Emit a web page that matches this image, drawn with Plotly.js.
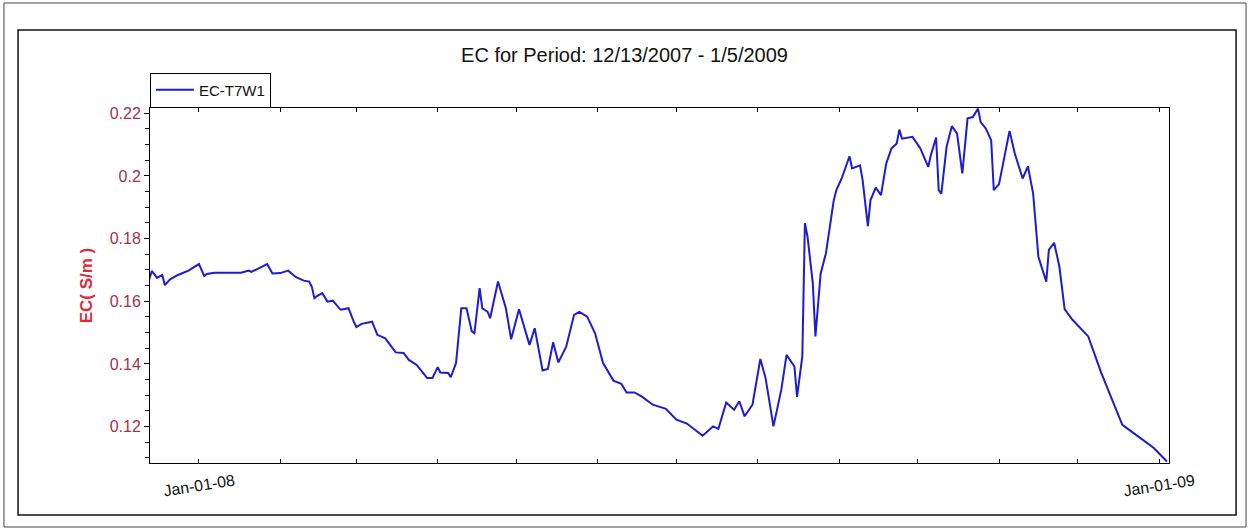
<!DOCTYPE html>
<html>
<head>
<meta charset="utf-8">
<script src="https://cdn.plot.ly/plotly-3.0.1.min.js"></script>
<style>
  html, body { margin: 0; padding: 0; background: #ffffff; }
  #chart { width: 1249px; height: 529px; }
</style>
</head>
<body>
<div id="chart"></div>
<script>
// ---- data ----
const seriesName = 'EC-T7W1';
const chartTitle = 'EC for Period: 12/13/2007 - 1/5/2009';
const yTitle = 'EC( S/m )';

const dates = [
  '2007-12-13','2007-12-14','2007-12-15','2007-12-16','2007-12-18','2007-12-19','2007-12-21','2007-12-24','2007-12-28',
  '2008-01-01','2008-01-03','2008-01-04','2008-01-07','2008-01-17','2008-01-20','2008-01-21','2008-01-23','2008-01-27','2008-01-29',
  '2008-02-01','2008-02-04','2008-02-07','2008-02-10','2008-02-12','2008-02-13','2008-02-14','2008-02-15','2008-02-17','2008-02-19','2008-02-21','2008-02-24','2008-02-27','2008-02-29',
  '2008-03-01','2008-03-03','2008-03-07','2008-03-09','2008-03-12','2008-03-16','2008-03-19','2008-03-21','2008-03-24','2008-03-28','2008-03-30',
  '2008-04-01','2008-04-02','2008-04-05','2008-04-06','2008-04-08','2008-04-10','2008-04-12','2008-04-14','2008-04-15','2008-04-17','2008-04-18','2008-04-20','2008-04-21','2008-04-24','2008-04-27','2008-04-29',
  '2008-05-02','2008-05-06','2008-05-08','2008-05-11','2008-05-13','2008-05-15','2008-05-17','2008-05-20','2008-05-23','2008-05-25','2008-05-28','2008-05-31',
  '2008-06-03','2008-06-07','2008-06-10','2008-06-12','2008-06-15','2008-06-18','2008-06-22','2008-06-27',
  '2008-07-01','2008-07-05','2008-07-11','2008-07-15','2008-07-17','2008-07-20','2008-07-23','2008-07-25','2008-07-27','2008-07-30',
  '2008-08-02','2008-08-04','2008-08-07','2008-08-10','2008-08-12','2008-08-15','2008-08-16','2008-08-18','2008-08-19','2008-08-20','2008-08-22','2008-08-23','2008-08-25','2008-08-27','2008-08-30','2008-08-31',
  '2008-09-02','2008-09-05','2008-09-06','2008-09-09','2008-09-10','2008-09-12','2008-09-13','2008-09-15','2008-09-17','2008-09-19','2008-09-21','2008-09-23','2008-09-24','2008-09-25','2008-09-29',
  '2008-10-02','2008-10-05','2008-10-06','2008-10-08','2008-10-09','2008-10-10','2008-10-12','2008-10-14','2008-10-16','2008-10-18','2008-10-20','2008-10-22','2008-10-24','2008-10-25','2008-10-27','2008-10-29','2008-10-30',
  '2008-11-01','2008-11-03','2008-11-05','2008-11-07','2008-11-10','2008-11-12','2008-11-14','2008-11-16','2008-11-19','2008-11-20','2008-11-22','2008-11-24','2008-11-26','2008-11-29',
  '2008-12-05','2008-12-10','2008-12-15','2008-12-18','2008-12-24','2008-12-30',
  '2009-01-04'
];

const ecValues = [
  0.1668,0.1697,0.1687,0.1675,0.1684,0.1652,0.1670,0.1684,0.1698,
  0.1719,0.1681,0.1687,0.1691,0.1691,0.1698,0.1694,0.1702,0.1719,0.1689,
  0.1690,0.1698,0.1677,0.1666,0.1663,0.1647,0.1610,0.1617,0.1626,0.1599,0.1602,0.1573,0.1578,0.1535,
  0.1518,0.1528,0.1535,0.1493,0.1482,0.1437,0.1435,0.1413,0.1397,0.1355,0.1355,
  0.1390,0.1373,0.1371,0.1358,0.1403,0.1578,0.1578,0.1504,0.1498,0.1642,0.1578,0.1567,0.1546,0.1663,0.1578,0.1479,
  0.1575,0.1461,0.1514,0.1379,0.1384,0.1469,0.1405,0.1455,0.1557,0.1566,0.1551,0.1498,
  0.1404,0.1347,0.1337,0.1309,0.1309,0.1295,0.1270,0.1257,
  0.1222,0.1210,0.1171,0.1201,0.1193,0.1277,0.1254,0.1281,0.1233,0.1270,
  0.1416,0.1355,0.1201,0.1318,0.1429,0.1392,0.1295,0.1424,0.1849,0.1806,0.1658,0.1488,0.1689,0.1753,0.1923,0.1955,
  0.1992,0.2063,0.2024,0.2034,0.1987,0.1840,0.1923,0.1963,0.1939,0.2040,0.2088,0.2104,0.2148,0.2119,0.2125,
  0.2088,0.2029,0.2066,0.2123,0.1955,0.1944,0.2093,0.2159,0.2135,0.2008,0.2184,0.2188,0.2215,0.2172,0.2151,0.2114,0.1955,
  0.1974,0.2056,0.2144,0.2072,0.1992,0.2031,0.1944,0.1742,0.1663,0.1764,0.1787,0.1711,0.1575,0.1541,
  0.1488,0.1371,0.1265,0.1206,0.1169,0.1132,
  0.1089
];

const monthTicks = [
  '2008-01-01','2008-02-01','2008-03-01','2008-04-01','2008-05-01','2008-06-01','2008-07-01',
  '2008-08-01','2008-09-01','2008-10-01','2008-11-01','2008-12-01','2009-01-01'
];
const labelDates = ['2008-01-01', '2009-01-01'];
const labelTexts = ['Jan-01-08', 'Jan-01-09'];

const xRange = ['2007-12-13 08:00', '2009-01-04 19:00'];
const yRange = [0.1084, 0.2217];

// ---- chart ----
const FONT = 'Arial, Liberation Sans, sans-serif';

const trace = {
  x: dates,
  y: ecValues,
  type: 'scatter',
  mode: 'lines',
  name: seriesName,
  line: { color: '#1c1cd0', width: 2 }
};

const annotations = labelDates.map((d, i) => ({
  x: d, xref: 'x',
  y: -0.062, yref: 'paper',
  text: labelTexts[i],
  showarrow: false,
  textangle: -9,
  xanchor: 'center', yanchor: 'middle',
  font: { family: FONT, size: 16, color: '#111111' }
}));

const layout = {
  width: 1249,
  height: 529,
  margin: { l: 150, r: 80, t: 108, b: 66, pad: 0 },
  paper_bgcolor: '#ffffff',
  plot_bgcolor: '#ffffff',
  font: { family: FONT, color: '#111111' },
  title: {
    text: chartTitle,
    font: { family: FONT, size: 20, color: '#111111' },
    x: 0.5, xref: 'container', xanchor: 'center',
    y: 0.896, yref: 'container', yanchor: 'middle'
  },
  showlegend: true,
  legend: {
    x: 0, xanchor: 'left',
    y: 1.0507, yanchor: 'middle',
    bgcolor: '#ffffff',
    bordercolor: '#000000',
    borderwidth: 1,
    itemwidth: 38,
    font: { family: FONT, size: 15, color: '#111111' },
    tracegroupgap: 0
  },
  xaxis: {
    type: 'date',
    range: xRange,
    tickmode: 'array',
    tickvals: monthTicks,
    showticklabels: false,
    ticks: 'inside',
    ticklen: 4,
    tickwidth: 1,
    tickcolor: '#000000',
    showline: true,
    linecolor: '#000000',
    linewidth: 1,
    mirror: 'ticks',
    showgrid: false,
    zeroline: false
  },
  xaxis2: {
    type: 'date',
    overlaying: 'x',
    anchor: 'y',
    side: 'bottom',
    range: xRange,
    tickmode: 'array',
    tickvals: monthTicks,
    showticklabels: false,
    ticks: 'outside',
    ticklen: 3,
    tickwidth: 1,
    tickcolor: '#000000',
    showline: false,
    showgrid: false,
    zeroline: false
  },
  yaxis: {
    range: yRange,
    tick0: 0,
    dtick: 0.02,
    ticks: 'outside',
    ticklen: 5,
    tickwidth: 1,
    tickcolor: '#000000',
    minor: { tick0: 0, dtick: 0.005, ticks: 'outside', ticklen: 4, tickcolor: '#000000', showgrid: false },
    showline: true,
    linecolor: '#000000',
    linewidth: 1,
    mirror: true,
    showgrid: false,
    zeroline: false,
    tickfont: { family: FONT, size: 16, color: '#a3324e' },
    title: {
      text: '<b>' + yTitle + '</b>',
      font: { family: FONT, size: 17, color: '#e0283a' },
      standoff: 12
    }
  },
  yaxis2: {
    overlaying: 'y',
    anchor: 'x',
    side: 'left',
    range: yRange,
    tick0: 0,
    dtick: 0.02,
    ticks: 'inside',
    ticklen: 4,
    tickwidth: 1,
    tickcolor: '#000000',
    minor: { tick0: 0, dtick: 0.005, ticks: 'inside', ticklen: 4, tickcolor: '#000000', showgrid: false },
    showticklabels: false,
    showline: false,
    showgrid: false,
    zeroline: false
  },
  annotations: annotations,
  shapes: [
    { type: 'rect', xref: 'paper', yref: 'paper', x0: -0.1433, x1: 1.0756, y0: -0.1803, y1: 1.2958,
      line: { color: '#444444', width: 1 }, layer: 'below' },
    { type: 'rect', xref: 'paper', yref: 'paper', x0: -0.1295, x1: 1.0658, y0: -0.1465, y1: 1.2197,
      line: { color: '#111111', width: 1.5 }, layer: 'below' }
  ]
};

Plotly.newPlot('chart', [trace], layout, { displayModeBar: false, responsive: false, staticPlot: true });
</script>
</body>
</html>
